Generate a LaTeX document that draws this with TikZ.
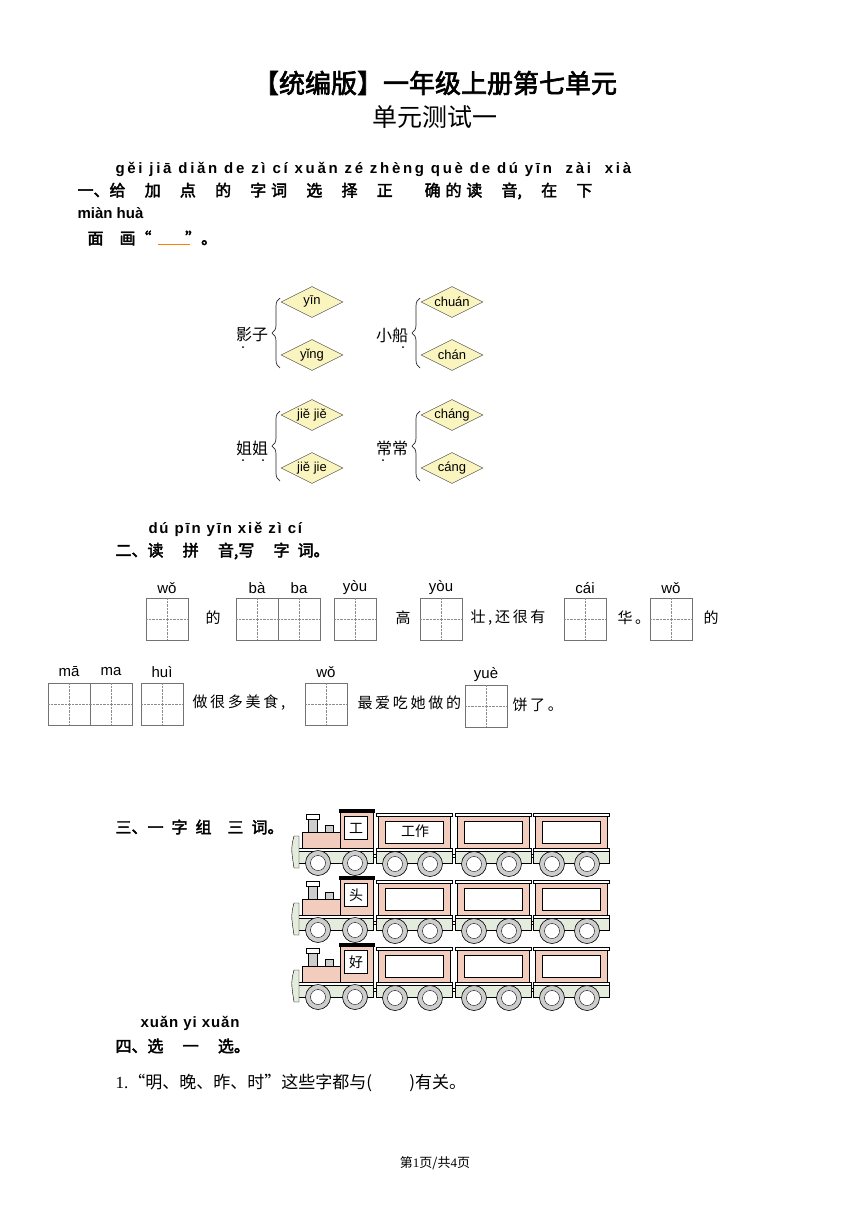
\documentclass[tikz,border=0pt]{standalone}
\usepackage{fontspec}
\setmainfont{Liberation Serif}
\newfontfamily\cjk{Noto Sans CJK SC}
\newfontfamily\cjkb[FakeBold=2.5]{Noto Sans CJK SC}
\newfontfamily\py{Liberation Sans}
\usetikzlibrary{shapes.geometric,decorations.pathreplacing}
\definecolor{dia}{RGB}{250,245,190}
\definecolor{pk}{RGB}{242,205,190}
\definecolor{gr}{RGB}{228,236,222}
\definecolor{wh}{RGB}{205,205,205}
\tikzset{
 dm/.style={diamond,draw=black!70,fill=dia,aspect=2,minimum width=62pt,minimum height=31pt,inner sep=0pt,font=\py\fontsize{13}{13}\selectfont},
 hz/.style={font=\cjk\fontsize{16}{16}\selectfont,anchor=center},
 br/.style={decorate,decoration={brace,amplitude=8pt},draw=black!85,line width=0.7pt},
 tian/.style={draw=black!55},
 pyt/.style={font=\py\fontsize{15}{15}\selectfont},
 tx/.style={font=\cjk\fontsize{15}{15}\selectfont\addfontfeature{LetterSpace=18},anchor=west},
 hd/.style={font=\cjkb\fontsize{16}{16}\selectfont,anchor=west},
 hp/.style={font=\py\bfseries\fontsize{15}{15}\selectfont,anchor=west},
 wl/.style={draw=black,fill=wh,line width=0.6pt},
}
\newcommand{\tianb}[2]{% x,y top-left 42x42
 \draw[tian] (#1,#2) rectangle ++(42,42);
 \draw[black!45,densely dotted] (#1+21,#2)--++(0,42) (#1,#2+21)--++(42,0);}
\newcommand{\whl}[2]{\draw[wl] (#1,#2) circle (12.5); \draw[black,fill=white] (#1,#2) circle (7.5);}
\newcommand{\tcar}[2]{% x left, y top
 \draw[black,fill=pk] (#1+2,#2+3) rectangle (#1+74,#2+35);
 \draw[black,fill=white] (#1+9,#2+8) rectangle (#1+67,#2+30);
 \draw[black,fill=white,line width=0.8pt] (#1,#2) rectangle (#1+76,#2+3);
 \draw[black,fill=gr] (#1,#2+35) rectangle (#1+76,#2+50);
 \draw[black,fill=white] (#1,#2+35) rectangle (#1+76,#2+38);
 \whl{#1+19}{#2+51}\whl{#1+54}{#2+51}}
\newcommand{\train}[3]{% y top, cab char, car1 text
 \draw[black,fill=pk] (302,#1+22) rectangle (340,#1+38);
 \draw[black,fill=wh] (308,#1+8) rectangle (317,#1+22);
 \draw[black,fill=white] (306,#1+4) rectangle (319,#1+9);
 \draw[black,fill=wh] (325,#1+15) rectangle (333,#1+22);
 \draw[black,fill=pk] (340,#1+1) rectangle (373,#1+38);
 \draw[black,fill=black] (339,#1-1) rectangle (374,#1+2);
 \node[draw=black,fill=white,minimum size=23pt,inner sep=0pt,font=\cjk\fontsize{14}{14}\selectfont] at (356,#1+18) {#2};
 \draw[black,fill=gr] (298,#1+38) rectangle (373,#1+53);
 \draw[black,fill=white] (298,#1+38) rectangle (373,#1+41);
 \draw[black,fill=gr] (294,#1+26) .. controls (291,#1+38) .. (294,#1+58) -- (299,#1+58) -- (299,#1+26) -- cycle;
 \whl{318}{#1+53}\whl{355}{#1+53}
 \draw[black,fill=white] (373,#1+44) rectangle (378,#1+47);
 \draw[black,fill=white] (452,#1+44) rectangle (455,#1+47);
 \draw[black,fill=white] (531,#1+44) rectangle (533,#1+47);
 \tcar{376}{#1+3}\tcar{455}{#1+3}\tcar{533}{#1+3}
 \node[font=\cjk\fontsize{14}{14}\selectfont] at (415,#1+21) {#3};}
\begin{document}
\begin{tikzpicture}[x=1pt,y=-1pt]
\useasboundingbox[fill=white] (0,0) rectangle (868,1227);
\node[font=\cjkb\fontsize{26}{26}\selectfont] (t1) at (435,83) {【统编版】一年级上册第七单元};
\node[font=\cjk\fontsize{25}{25}\selectfont] (t2) at (435,117) {单元测试一};
% section 1
\node[hp,font=\py\bfseries\fontsize{15}{15}\selectfont\addfontfeature{LetterSpace=18}] (p1) at (112,169) {gěi jiā diǎn de zì cí xuǎn zé zhèng què de dú yīn\ \ zài\ \ xià};
\node[hd] (h1) at (74,191) {一、给\hspace{1.2em}加\hspace{1.2em}点\hspace{1.2em}的\hspace{1.2em}字\hspace{.3em}词\hspace{1.2em}选\hspace{1.2em}择\hspace{1.2em}正\hspace{2em}确\hspace{.3em}的\hspace{.3em}读\hspace{1.2em}音,\hspace{1.2em}在\hspace{1.2em}下};
\node[hp] (p1b) at (74,213) {miàn huà};
\node[hd] (h1b) at (84,238) {面\hspace{1em}画“\hspace{2.1em}”。};
\draw[orange,line width=1pt] (158,244) -- (190,244);
\foreach \x/\y/\w/\a/\b/\nm in {252/335/影子/yīn/yǐng/a, 392/335/小船/chuán/chán/b, 252/448/姐姐/jiě jiě/jiě jie/c, 392/448/常常/cháng/cáng/d}{
 \node[hz] (w\nm) at (\x,\y) {\w};
 \node[dm] (u\nm) at (\x+60,\y-33) {\a};
 \node[dm] (l\nm) at (\x+60,\y+20) {\b};
 \draw[br] (\x+28,\y+33) -- (\x+28,\y-37);
}
\foreach \p in {(243,347),(403,347),(243,460),(263,460),(383,460)} \fill \p circle (1);
% section 2
\node[hp,font=\py\bfseries\fontsize{15}{15}\selectfont\addfontfeature{LetterSpace=12}] (p2) at (145,529) {dú pīn yīn xiě zì cí};
\node[hd] (h2) at (112,551) {二、读\hspace{1.2em}拼\hspace{1.2em}音,写\hspace{1.2em}字\hspace{.5em}词。};
\foreach \x in {146,236,278,334,420,564,650} {\tianb{\x}{598}}
\foreach \x in {48,90,141,305} {\tianb{\x}{683}}
\tianb{465}{685}
\foreach \x/\s in {167/wǒ,257/bà,299/ba,355/yòu,441/yòu,585/cái,671/wǒ} \node[pyt] at (\x,588) {\s};
\foreach \x/\s in {69/mā,111/ma,162/huì,326/wǒ} \node[pyt] at (\x,672) {\s};
\node[pyt] at (486,675) {yuè};
\node[tx] at (202,618) {的};
\node[tx] at (392,618) {高};
\node[tx] at (467,618) {壮,还很有};
\node[tx] at (614,618) {华。};
\node[tx] at (700,618) {的};
\node[tx] at (189,703) {做很多美食,};
\node[tx] at (354,703) {最爱吃她做的};
\node[tx] at (509,705) {饼了。};
% section 3
\node[hd] (h3) at (112,827) {三、一\hspace{.5em}字\hspace{.5em}组\hspace{1em}三\hspace{.5em}词。};
\train{810}{工}{工作}
\train{877}{头}{}
\train{944}{好}{}
% section 4
\node[hp,font=\py\bfseries\fontsize{15}{15}\selectfont\addfontfeature{LetterSpace=6}] (p4) at (137,1023) {xuǎn yi xuǎn};
\node[hd] (h4) at (112,1046) {四、选\hspace{1.2em}一\hspace{1.2em}选。};
\node[anchor=west,font=\fontsize{17}{17}\selectfont] (q1) at (112,1083) {1.\cjk“明、晚、昨、时”这些字都与(\hspace{2.2em})有关。};
\node[font=\cjk\fontsize{13}{13}\selectfont] (ft) at (435,1163) {第\rmfamily 1\cjk 页/共\rmfamily 4\cjk 页};
\end{tikzpicture}
\end{document}
